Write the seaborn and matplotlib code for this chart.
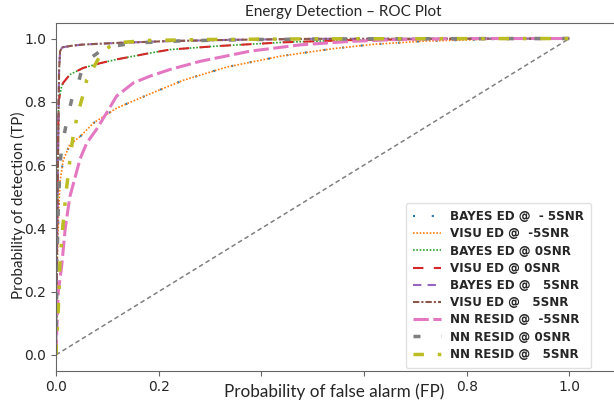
import numpy as np
import pandas as pd
import seaborn as sns
import matplotlib.pyplot as plt

# ROC points (false alarm rate, detection rate)
fp_m5 = [0, 0.002, 0.005, 0.008, 0.014, 0.027, 0.047, 0.073, 0.118, 0.183,
         0.248, 0.333, 0.44, 0.54, 0.62, 0.72, 0.85, 1.0]
tp_m5 = [0, 0.25, 0.45, 0.55, 0.615, 0.665, 0.69, 0.733, 0.78, 0.825,
         0.868, 0.91, 0.945, 0.968, 0.982, 0.992, 0.998, 1.0]

fp_0 = [0, 0.002, 0.005, 0.011, 0.014, 0.027, 0.053, 0.086, 0.118, 0.183,
        0.222, 0.313, 0.443, 0.573, 0.75, 1.0]
tp_0 = [0, 0.4, 0.8, 0.85, 0.86, 0.886, 0.907, 0.922, 0.934, 0.954,
        0.965, 0.976, 0.988, 0.995, 0.999, 1.0]

fp_5 = [0, 0.003, 0.006, 0.008, 0.012, 0.03, 0.053, 0.118, 0.222, 0.35, 0.5, 1.0]
tp_5 = [0, 0.5, 0.9, 0.96, 0.972, 0.977, 0.981, 0.986, 0.992, 0.996, 0.999, 1.0]

fp_nn_m5 = [0, 0.002, 0.0045, 0.011, 0.018, 0.027, 0.037, 0.047, 0.06, 0.079,
            0.099, 0.118, 0.151, 0.183, 0.222, 0.281, 0.378, 0.476, 0.573, 0.67, 0.8, 1.0]
tp_nn_m5 = [0, 0.1, 0.2, 0.28, 0.4, 0.5, 0.56, 0.62, 0.67, 0.713,
            0.766, 0.818, 0.86, 0.881, 0.902, 0.928, 0.96, 0.98, 0.991, 0.997, 1.0, 1.0]

fp_nn_0 = [0, 0.002, 0.005, 0.008, 0.011, 0.018, 0.024, 0.031, 0.042, 0.05,
           0.066, 0.088, 0.12, 0.155, 0.25, 0.4, 0.6, 1.0]
tp_nn_0 = [0, 0.3, 0.5, 0.6, 0.66, 0.713, 0.76, 0.81, 0.85, 0.9,
           0.937, 0.962, 0.978, 0.986, 0.993, 0.997, 0.999, 1.0]

fp_nn_5 = [0, 0.001, 0.0045, 0.008, 0.014, 0.02, 0.027, 0.034, 0.043, 0.052,
           0.06, 0.072, 0.09, 0.105, 0.13, 0.18, 0.3, 0.5, 1.0]
tp_nn_5 = [0, 0.04, 0.145, 0.3, 0.418, 0.52, 0.615, 0.7, 0.765, 0.818,
           0.87, 0.905, 0.958, 0.975, 0.988, 0.994, 0.997, 0.999, 1.0]

chance = [0, 1]

labels = ["BAYES ED @  - 5SNR", "VISU ED @  -5SNR", "BAYES ED @ 0SNR",
          "VISU ED @ 0SNR", "BAYES ED @   5SNR", "VISU ED @   5SNR",
          "NN RESID @  -5SNR", "NN RESID @ 0SNR", "NN RESID @   5SNR"]

curves = [(fp_m5, tp_m5), (fp_m5, tp_m5), (fp_0, tp_0), (fp_0, tp_0),
          (fp_5, tp_5), (fp_5, tp_5), (fp_nn_m5, tp_nn_m5),
          (fp_nn_0, tp_nn_0), (fp_nn_5, tp_nn_5)]

ticks = [0, 0.2, 0.4, 0.6, 0.8, 1.0]
# 0.4 / 0.6 x tick labels are hidden behind the x label box in the original
xtick_labels = ["0.0", "0.2", "", "", "0.8", "1.0"]

# line styles per series
styles = [
    dict(linestyle=(0, (1, 8)), linewidth=1.5),
    dict(linestyle=(0, (1, 1)), linewidth=1.2),
    dict(linestyle=(0, (1, 1)), linewidth=1.2),
    dict(linestyle=(0, (5, 5)), linewidth=1.5),
    dict(linestyle=(0, (4, 3)), linewidth=1.5),
    dict(linestyle=(0, (3, 1, 1, 1)), linewidth=1.5),
    dict(linestyle=(0, (5, 1.5)), linewidth=2.2),
    dict(linestyle=(0, (2, 6)), linewidth=2.5),
    dict(linestyle=(0, (3, 4, 1, 4)), linewidth=2.5),
]

sns.set_style("ticks")
plt.rcParams['font.family'] = ['DejaVu Sans']
palette = sns.color_palette("tab10")

fig = plt.figure(figsize=(6.14, 4.05), dpi=100)
ax = fig.add_axes([56 / 614, (405 - 370.7) / 405, 575 / 614, (370.7 - 22.7) / 405])

sns.lineplot(x=chance, y=chance, ax=ax, color="gray", linestyle=(0, (3, 2)), linewidth=1.1)

for (fp, tp), lab, st, col in zip(curves, labels, styles, palette):
    sns.lineplot(x=fp, y=tp, ax=ax, color=col, label=lab, estimator=None, **st)

ax.set_xlim(0, 1.12)
ax.set_ylim(-0.05, 1.05)
ax.set_xticks(ticks)
ax.set_xticklabels(xtick_labels)
ax.set_yticks(ticks)
for s in ax.spines.values():
    s.set_color("0.4")
ax.tick_params(colors="0.4", labelcolor="0.15", labelsize=10)

ax.legend(loc="lower left", bbox_to_anchor=(0.6085, 0.008), borderaxespad=0,
          prop=dict(weight="bold", size=8.6), framealpha=0.8, edgecolor="0.85",
          handlelength=2.3, labelspacing=0.35, borderpad=0.6)

fig.text(343 / 614, 1 - 12 / 405, "Energy Detection \u2013 ROC Plot", family="Lato",
         fontsize=11, ha="center", va="center")
fig.text(334 / 614, 1 - 392 / 405, "Probability of false alarm (FP)", family="Lato",
         fontsize=12.3, ha="center", va="center")
fig.text(18 / 614, 1 - 205 / 405, "Probability of detection (TP)", family="Lato",
         fontsize=11, ha="center", va="center", rotation=90)

fig.savefig("out.png", dpi=100)
